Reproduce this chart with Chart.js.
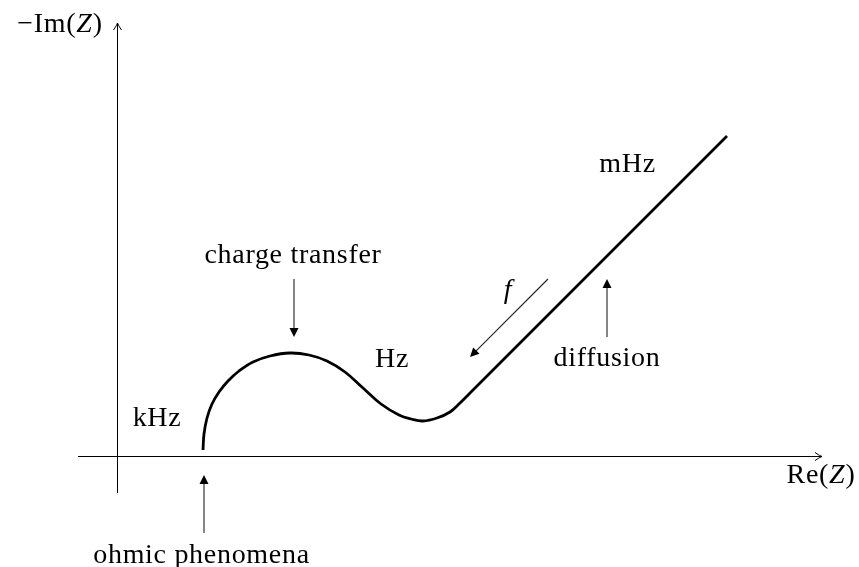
<!DOCTYPE html>
<html>
<head>
<meta charset="utf-8">
<script src="https://cdn.jsdelivr.net/npm/chart.js@4/dist/chart.umd.min.js"></script>
<style>
  html, body { margin: 0; padding: 0; background: #fff; }
</style>
</head>
<body>
<canvas id="nyquist" width="859" height="567"></canvas>
<script>
// Nyquist sketch, origin of the impedance plane at (0, 0)
const reZ = [86, 87, 90, 95, 102, 111, 122, 136, 153, 173, 192, 210, 228, 246, 264, 282, 294, 306, 320, 333, 343, 353, 400, 500, 610];
const imZ = [6, 22, 38, 52, 64, 75, 85, 94, 100, 103, 101, 95, 84, 68, 52, 41, 37, 35, 38, 44, 53, 63, 110, 210, 320];

// axis extents
const reAxis = [-39, 705];
const imAxis = [-37, 433];

// annotation arrows: start -> tip
const arrowFrom = [[177, 177], [87, -77], [490, 119], [431, 177]];
const arrowTo = [[177, 119], [87, -19], [490, 177], [353, 99]];

// plain labels (centred, alphabetic baseline)
const labelText = ['charge transfer', 'ohmic phenomena', 'diffusion', 'Hz', 'kHz', 'mHz'];
const labelX = [176, 84.5, 490, 275, 40, 510.5];
const labelY = [193, -106.5, 90, 89, 30, 284];

const serif = '"Liberation Serif", "Times New Roman", serif';
const fontSize = 28;

function drawRich(ctx, parts, cx, cy) {
    ctx.letterSpacing = '0.7px';
    let total = 0;
    parts.forEach(p => {
        ctx.font = (p[1] ? 'italic ' : '') + fontSize + 'px ' + serif;
        total += ctx.measureText(p[0]).width;
    });
    let px = cx - total / 2;
    ctx.textAlign = 'left';
    parts.forEach(p => {
        ctx.font = (p[1] ? 'italic ' : '') + fontSize + 'px ' + serif;
        ctx.fillText(p[0], px, cy);
        px += ctx.measureText(p[0]).width;
    });
}

// open "to" style tip used on the axes
function openTip(ctx, tx, ty, dx, dy) {
    const len = 7, spread = 4;
    const nx = -dy, ny = dx;
    ctx.beginPath();
    ctx.moveTo(tx - dx * len + nx * spread, ty - dy * len + ny * spread);
    ctx.quadraticCurveTo(tx - dx * 2 + nx * 0.5, ty - dy * 2 + ny * 0.5, tx, ty);
    ctx.quadraticCurveTo(tx - dx * 2 - nx * 0.5, ty - dy * 2 - ny * 0.5, tx - dx * len - nx * spread, ty - dy * len - ny * spread);
    ctx.stroke();
}

const sketchPlugin = {
    id: 'sketch',
    beforeDatasetsDraw(chart) {
        const { ctx, scales: { x, y } } = chart;
        const x0 = Math.round(x.getPixelForValue(0)) + 0.5;
        const y0 = Math.round(y.getPixelForValue(0)) + 0.5;
        ctx.save();
        ctx.strokeStyle = '#000';
        ctx.lineWidth = 1;
        ctx.beginPath();
        ctx.moveTo(x.getPixelForValue(reAxis[0]), y0);
        ctx.lineTo(x.getPixelForValue(reAxis[1]), y0);
        ctx.moveTo(x0, y.getPixelForValue(imAxis[0]));
        ctx.lineTo(x0, y.getPixelForValue(imAxis[1]));
        ctx.stroke();
        openTip(ctx, x.getPixelForValue(reAxis[1]), y0, 1, 0);
        openTip(ctx, x0, y.getPixelForValue(imAxis[1]), 0, -1);
        ctx.restore();
    },
    afterDatasetsDraw(chart) {
        const { ctx, scales: { x, y } } = chart;
        ctx.save();
        ctx.strokeStyle = '#222';
        ctx.fillStyle = '#000';
        ctx.lineWidth = 1.1;
        arrowFrom.forEach((a, i) => {
            const sx = x.getPixelForValue(a[0]), sy = y.getPixelForValue(a[1]);
            const tx = x.getPixelForValue(arrowTo[i][0]), ty = y.getPixelForValue(arrowTo[i][1]);
            const d = Math.hypot(tx - sx, ty - sy);
            const ux = (tx - sx) / d, uy = (ty - sy) / d;
            const head = 9, half = 4.5;
            const bx = tx - ux * head, by = ty - uy * head;
            ctx.beginPath();
            ctx.moveTo(sx, sy);
            ctx.lineTo(bx + ux, by + uy);
            ctx.stroke();
            ctx.beginPath();
            ctx.moveTo(tx, ty);
            ctx.lineTo(bx - uy * half, by + ux * half);
            ctx.lineTo(bx + uy * half, by - ux * half);
            ctx.closePath();
            ctx.fill();
        });

        ctx.fillStyle = '#000';
        ctx.textBaseline = 'alphabetic';
        labelText.forEach((t, i) => {
            drawRich(ctx, [[t, false]], x.getPixelForValue(labelX[i]), y.getPixelForValue(labelY[i]));
        });
        drawRich(ctx, [['f', true]], x.getPixelForValue(391), y.getPixelForValue(158));
        drawRich(ctx, [['\u2212Im(', false], ['Z', true], [')', false]], x.getPixelForValue(-57), y.getPixelForValue(424));
        drawRich(ctx, [['Re(', false], ['Z', true], [')', false]], x.getPixelForValue(704), y.getPixelForValue(-27));
        ctx.restore();
    }
};

new Chart(document.getElementById('nyquist'), {
    type: 'scatter',
    data: {
        datasets: [{
            data: reZ.map((v, i) => ({ x: v, y: imZ[i] })),
            showLine: true,
            borderColor: '#000',
            borderWidth: 2.8,
            borderCapStyle: 'butt',
            tension: 0.4,
            pointRadius: 0,
            fill: false
        }]
    },
    options: {
        responsive: false,
        devicePixelRatio: 1,
        animation: false,
        layout: { padding: 0 },
        scales: {
            x: { type: 'linear', min: -117, max: 742, display: false },
            y: { type: 'linear', min: -111, max: 456, display: false }
        },
        plugins: {
            legend: { display: false },
            tooltip: { enabled: false }
        }
    },
    plugins: [sketchPlugin]
});
</script>
</body>
</html>
